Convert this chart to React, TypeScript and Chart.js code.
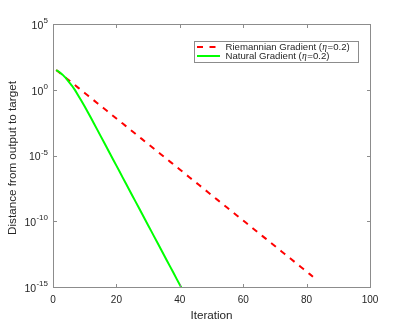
import React, { useEffect, useRef } from "react";
import { Chart, registerables } from "chart.js";

Chart.register(...registerables);

// Iterations start at 1 (index 0 -> iteration 1)
const redValues = [
  3.16e1, 2.02e1, 1.29e1, 8.28, 5.3, 3.39, 2.17, 1.39, 8.87e-1, 5.68e-1,
  3.63e-1, 2.32e-1, 1.49e-1, 9.51e-2, 6.08e-2, 3.89e-2, 2.49e-2, 1.59e-2, 1.02e-2, 6.52e-3,
  4.17e-3, 2.67e-3, 1.71e-3, 1.09e-3, 6.98e-4, 4.47e-4, 2.86e-4, 1.83e-4, 1.17e-4, 7.48e-5,
  4.79e-5, 3.06e-5, 1.96e-5, 1.25e-5, 8.02e-6, 5.13e-6, 3.28e-6, 2.1e-6, 1.34e-6, 8.59e-7,
  5.5e-7, 3.52e-7, 2.25e-7, 1.44e-7, 9.2e-8, 5.89e-8, 3.77e-8, 2.41e-8, 1.54e-8, 9.86e-9,
  6.31e-9, 4.04e-9, 2.58e-9, 1.65e-9, 1.06e-9, 6.76e-10, 4.33e-10, 2.77e-10, 1.77e-10, 1.13e-10,
  7.24e-11, 4.63e-11, 2.96e-11, 1.9e-11, 1.21e-11, 7.76e-12, 4.97e-12, 3.18e-12, 2.03e-12, 1.3e-12,
  8.32e-13, 5.32e-13, 3.4e-13, 2.18e-13, 1.39e-13, 8.91e-14, 5.7e-14, 3.65e-14, 2.33e-14, 1.49e-14,
  9.55e-15, 6.11e-15,
];

const greenValues = [
  3.16e1, 2.24e1, 1.41e1, 7.94, 3.98, 2.0, 8.91e-1, 3.55e-1, 1.41e-1, 5.25e-2,
  1.95e-2, 7.08e-3, 2.51e-3, 8.91e-4, 3.09e-4, 1.1e-4, 3.89e-5, 1.38e-5, 4.79e-6, 1.7e-6,
  6.03e-7, 2.09e-7, 7.41e-8, 2.63e-8, 9.12e-9, 3.24e-9, 1.15e-9, 4.07e-10, 1.41e-10, 5.01e-11,
  1.78e-11, 6.17e-12, 2.19e-12, 7.76e-13, 2.75e-13, 9.55e-14, 3.39e-14, 1.2e-14, 4.17e-15, 1.48e-15,
  5.25e-16,
];

const xTicks = [0, 20, 40, 60, 80, 100];
const yTickExponents = [5, 0, -5, -10, -15];
const seriesNames = ["Riemannian Gradient", "Natural Gradient"];
const etaText = "\u03b7";
const etaValue = "=0.2)";
const xTitle = "Iteration";
const yTitle = "Distance from output to target";

const FONT = '"Liberation Sans", Arial, Helvetica, sans-serif';
const TEXT = "#262626";
const FRAME = "#8c8c8c";
const RED = "#ff0000";
const GREEN = "#00ff00";

const matlabPlugin = {
  id: "matlabDecor",
  afterDraw(chart: any) {
    const ctx: CanvasRenderingContext2D = chart.ctx;
    const { left, right, top, bottom } = chart.chartArea;
    const xs = chart.scales.x;
    const ys = chart.scales.y;
    ctx.save();

    // frame
    ctx.strokeStyle = FRAME;
    ctx.lineWidth = 1;
    ctx.setLineDash([]);
    ctx.strokeRect(left + 0.5, top + 0.5, right - left, bottom - top);

    // ticks
    const tl = 3.5;
    ctx.beginPath();
    xTicks.forEach((v) => {
      const px = Math.round(xs.getPixelForValue(v)) + 0.5;
      ctx.moveTo(px, bottom + 0.5);
      ctx.lineTo(px, bottom + 0.5 - tl);
      ctx.moveTo(px, top + 0.5);
      ctx.lineTo(px, top + 0.5 + tl);
    });
    yTickExponents.forEach((e) => {
      const py = Math.round(ys.getPixelForValue(Math.pow(10, e))) + 0.5;
      ctx.moveTo(left + 0.5, py);
      ctx.lineTo(left + 0.5 + tl, py);
      ctx.moveTo(right + 0.5, py);
      ctx.lineTo(right + 0.5 - tl, py);
    });
    ctx.stroke();

    // x tick labels
    ctx.fillStyle = TEXT;
    ctx.font = `10px ${FONT}`;
    ctx.textAlign = "center";
    ctx.textBaseline = "middle";
    xTicks.forEach((v) => {
      ctx.fillText(String(v), xs.getPixelForValue(v), bottom + 13.5);
    });

    // y tick labels 10^e
    const rightEdge = left - 5;
    yTickExponents.forEach((e) => {
      const py = ys.getPixelForValue(Math.pow(10, e));
      const expStr = String(e);
      ctx.font = `8px ${FONT}`;
      ctx.textAlign = "right";
      const ew = ctx.measureText(expStr).width;
      ctx.fillText(expStr, rightEdge, py - 3);
      ctx.font = `10.5px ${FONT}`;
      ctx.fillText("10", rightEdge - ew - 0.3, py + 2);
    });

    // axis titles
    ctx.font = `11.7px ${FONT}`;
    ctx.textAlign = "center";
    ctx.textBaseline = "middle";
    ctx.fillText(xTitle, (left + right) / 2, 316);
    ctx.save();
    ctx.translate(12.5, 158);
    ctx.rotate(-Math.PI / 2);
    ctx.fillText(yTitle, 0, 0);
    ctx.restore();

    // legend
    const lx = 194, ly = 41, lw = 164, lh = 21;
    ctx.fillStyle = "#ffffff";
    ctx.fillRect(lx, ly, lw, lh);
    ctx.strokeStyle = FRAME;
    ctx.lineWidth = 1;
    ctx.strokeRect(lx + 0.5, ly + 0.5, lw, lh);

    const rows = [
      { name: seriesNames[0], color: RED, dash: [6, 6.5], y: 47 },
      { name: seriesNames[1], color: GREEN, dash: [], y: 56 },
    ];
    rows.forEach((r) => {
      ctx.strokeStyle = r.color;
      ctx.lineWidth = 2;
      ctx.setLineDash(r.dash);
      ctx.beginPath();
      ctx.moveTo(197, r.y);
      ctx.lineTo(r.dash.length ? 216 : 220, r.y);
      ctx.stroke();
      ctx.setLineDash([]);

      ctx.fillStyle = TEXT;
      ctx.textAlign = "left";
      ctx.textBaseline = "middle";
      let tx = 225.5;
      ctx.font = `9.6px ${FONT}`;
      const part1 = r.name + " (";
      ctx.fillText(part1, tx, r.y);
      tx += ctx.measureText(part1).width + 0.3;
      ctx.font = `italic 9.6px "Liberation Serif", "DejaVu Serif", serif`;
      ctx.fillText(etaText, tx, r.y + 0.5);
      tx += ctx.measureText(etaText).width + 0.5;
      ctx.font = `9.6px ${FONT}`;
      ctx.fillText(etaValue, tx, r.y);
    });

    ctx.restore();
  },
};

export default function App() {
  const canvasRef = useRef<HTMLCanvasElement | null>(null);

  useEffect(() => {
    if (!canvasRef.current) return;
    const chart = new Chart(canvasRef.current, {
      type: "line",
      data: {
        datasets: [
          {
            label: seriesNames[1],
            data: greenValues.map((v, i) => ({ x: i + 1, y: v })),
            borderColor: GREEN,
            borderWidth: 2,
            pointRadius: 0,
            fill: false,
            tension: 0,
            clip: 0,
          } as any,
          {
            label: seriesNames[0],
            data: redValues.map((v, i) => ({ x: i + 1, y: v })),
            borderColor: RED,
            borderWidth: 2,
            borderDash: [6, 6],
            pointRadius: 0,
            fill: false,
            tension: 0,
            clip: 0,
          } as any,
        ],
      },
      options: {
        responsive: false,
        animation: false,
        devicePixelRatio: 1,
        layout: { padding: { top: 24, right: 39, left: 0, bottom: 0 } },
        plugins: { legend: { display: false }, tooltip: { enabled: false } },
        events: [],
        scales: {
          x: {
            type: "linear",
            min: 0,
            max: 100,
            grid: { display: false, drawTicks: false },
            border: { display: false },
            ticks: { display: false },
            afterFit: (s: any) => {
              s.height = 37;
            },
          },
          y: {
            type: "logarithmic",
            min: 1e-15,
            max: 1e5,
            grid: { display: false, drawTicks: false },
            border: { display: false },
            ticks: { display: false },
            afterFit: (s: any) => {
              s.width = 53;
            },
          },
        },
      } as any,
      plugins: [matlabPlugin],
    });
    return () => chart.destroy();
  }, []);

  return (
    <div style={{ position: "absolute", left: 0, top: 0, width: 409, height: 324, background: "#fff" }}>
      <canvas ref={canvasRef} width={409} height={324} style={{ display: "block" }} />
    </div>
  );
}
